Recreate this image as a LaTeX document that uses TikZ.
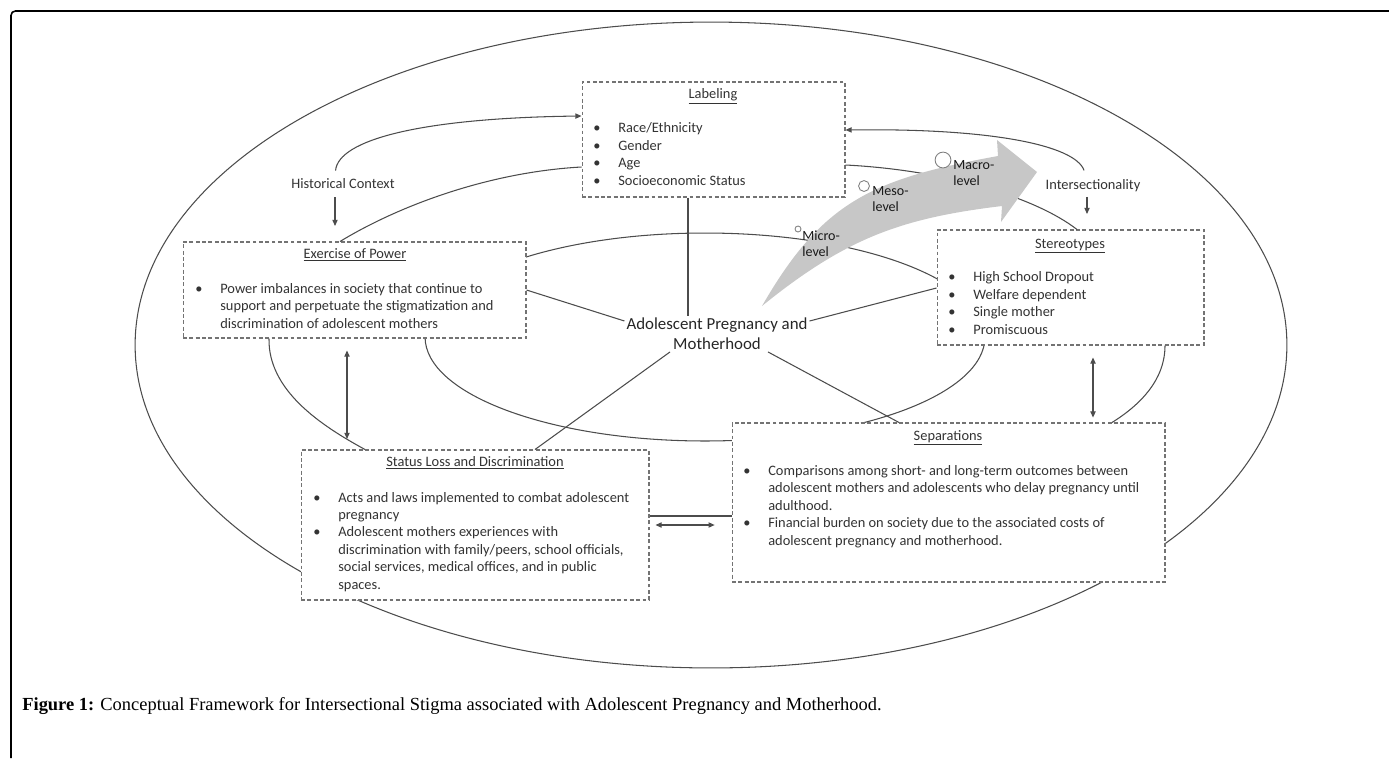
\documentclass[tikz,border=0pt]{standalone}
\usepackage{fontspec}
\setmainfont{Carlito}
\newfontfamily\capfont{Liberation Serif}
\usetikzlibrary{arrows.meta}

\tikzset{
  boxframe/.style={draw=black!55, fill=white, line width=0.6pt, dash pattern=on 2.2pt off 1.4pt, inner sep=0pt},
  link/.style={draw=black!70, line width=0.6pt},
  tipped/.style={-{Triangle[length=3.5pt,width=3pt]}},
  twoway/.style={{Triangle[length=3.5pt,width=3pt]}-{Triangle[length=3.5pt,width=3pt]}},
  body/.style={anchor=base west, align=left, inner sep=0pt, text=black!80, font=\fontsize{8.2}{9.9}\selectfont},
  head/.style={anchor=base, inner sep=0pt, text=black!80, font=\fontsize{8.2}{9.9}\selectfont},
  level/.style={anchor=base west, align=left, inner sep=0pt, text=black!90, font=\fontsize{8}{8.8}\selectfont},
}
\newcommand{\bul}{\makebox[14.2pt][l]{\textbullet}}
\newcommand{\cont}{\hspace*{14.2pt}}

\begin{document}
\begin{tikzpicture}[x=0.02cm,y=-0.02cm]
\useasboundingbox (0,0) rectangle (1389,758);
% page frame
\draw[line width=0.9pt, rounded corners=2.5pt] (11,758) -- (11,11) -- (1389,11);

% outer and inner rings
\draw[link] (711,345) ellipse [x radius=11.52cm, y radius=6.46cm];
\draw[link] (705,337) ellipse [x radius=5.6cm, y radius=2.08cm];

% boxes
\node[boxframe, minimum width=5.26cm, minimum height=2.3cm] (labeling) at (713.5,139.5) {};
\node[boxframe, minimum width=6.86cm, minimum height=1.92cm] (power) at (354.5,290) {};
\node[boxframe, minimum width=5.34cm, minimum height=2.3cm] (stereo) at (1070.5,287.5) {};
\node[boxframe, minimum width=6.96cm, minimum height=3cm] (status) at (475,525) {};
\node[boxframe, minimum width=8.66cm, minimum height=3.18cm] (separ) at (948.5,502.5) {};

% box texts (base = last line)
\node[head] (labelingtitle) at (713,98) {\underline{Labeling}};
\node[body] (labelingtext) at (593,185) {\bul Race/Ethnicity\\ \bul Gender\\ \bul Age\\ \bul Socioeconomic Status};
\node[head] (powertitle) at (355,258) {\underline{Exercise of Power}};
\node[body] (powertext) at (195,328) {\bul Power imbalances in society that continue to\\
  \cont support and perpetuate the stigmatization and\\
  \cont discrimination of adolescent mothers};
\node[head] (stereotitle) at (1070,248) {\underline{Stereotypes}};
\node[body] (stereotext) at (948,334) {\bul High School Dropout\\ \bul Welfare dependent\\ \bul Single mother\\ \bul Promiscuous};
\node[head] (statustitle) at (475,466) {\underline{Status Loss and Discrimination}};
\node[body] (statustext) at (313,589) {\bul Acts and laws implemented to combat adolescent\\
  \cont pregnancy\\
  \bul Adolescent mothers experiences with\\
  \cont discrimination with family/peers, school officials,\\
  \cont social services, medical offices, and in public\\
  \cont spaces.};
\node[head] (separtitle) at (948,440) {\underline{Separations}};
\node[body] (separtext) at (743,545) {\bul Comparisons among short- and long-term outcomes between\\
  \cont adolescent mothers and adolescents who delay pregnancy until\\
  \cont adulthood.\\
  \bul Financial burden on society due to the associated costs of\\
  \cont adolescent pregnancy and motherhood.};

% context labels and centre
\node[head] (hist) at (343,188) {Historical Context};
\node[head] (inter) at (1093,189) {Intersectionality};
\node[align=center, inner sep=1pt, text=black!85, font=\fontsize{9.6}{11.3}\selectfont] (apm) at (717,334) {Adolescent Pregnancy and\\Motherhood};
\coordinate (histend) at (335,226);
\coordinate (interend) at (1087,214);

% connectors
\draw[link, tipped, shorten <=4pt] (hist.north -| 335,0) .. controls (338,140) and (420,118) .. (labeling.west |- 0,116);
\draw[link, tipped, shorten <=5pt] (hist.south -| 335,0) -- (histend);
\draw[link] (power.north -| 340,0) .. controls (400,205) and (490,172) .. (labeling.west |- 0,167);
\draw[link, tipped, shorten <=5pt] (inter.north -| 1087,0) .. controls (1075,145) and (990,128) .. (labeling.east |- 0,130);
\draw[link, tipped, shorten <=3pt] (inter.south -| 1087,0) -- (interend);
\draw[link] (labeling.east |- 0,165) .. controls (945,170) and (1035,197) .. (stereo.north -| 1077,0);
\draw[link] (labeling.south -| 688,0) -- (apm.north -| 688,0);
\draw[link] (power.east |- 0,290) -- (apm.172);
\draw[link] (apm.8) -- (stereo.west |- 0,288);
\draw[link] (apm.south -| 670,0) -- (status.north -| 535,0);
\draw[link] (apm.south -| 768,0) -- (separ.north -| 899,0);
\draw[link] (power.south -| 269,0) .. controls (268,390) and (320,425) .. (status.north -| 365,0);
\draw[link] (stereo.south -| 1165,0) .. controls (1165,380) and (1140,405) .. (separ.north -| 1112,0);
\draw[link, twoway, shorten <=6.8pt, shorten >=6pt] (power.south -| 347,0) -- (status.north -| 347,0);
\draw[link, twoway, shorten <=6.8pt, shorten >=2.8pt] (stereo.south -| 1093,0) -- (separ.north -| 1093,0);
\draw[link, twoway, shorten <=3.4pt, shorten >=9.6pt] (status.east |- 0,525) -- (separ.west |- 0,525);
\draw[link] (status.east |- 0,516) -- (separ.west |- 0,516);

% levels arrow
\fill[black!22] (762,306) .. controls (822,202) and (871,179) .. (998,156) -- (997,140) -- (1037,172)
  -- (1001,222) -- (1002,206) .. controls (903,218) and (847,237) .. (762,306) -- cycle;
\draw[black!50, fill=white, line width=0.5pt] (798,229) circle [radius=1.7pt];
\draw[black!50, fill=white, line width=0.5pt] (864,186) circle [radius=3.1pt];
\draw[black!50, fill=white, line width=0.5pt] (943,160) circle [radius=4.5pt];
\node[level] (micro) at (802,256) {Micro-\\level};
\node[level] (meso) at (872,211) {Meso-\\level};
\node[level] (macro) at (953,185) {Macro-\\level};

% caption
\node[anchor=base west, inner sep=0pt, font=\capfont\fontsize{10.5}{12.5}\selectfont] (caption) at (22,710)
  {\textbf{Figure 1:} Conceptual Framework for Intersectional Stigma associated with Adolescent Pregnancy and Motherhood.};
\end{tikzpicture}
\end{document}
